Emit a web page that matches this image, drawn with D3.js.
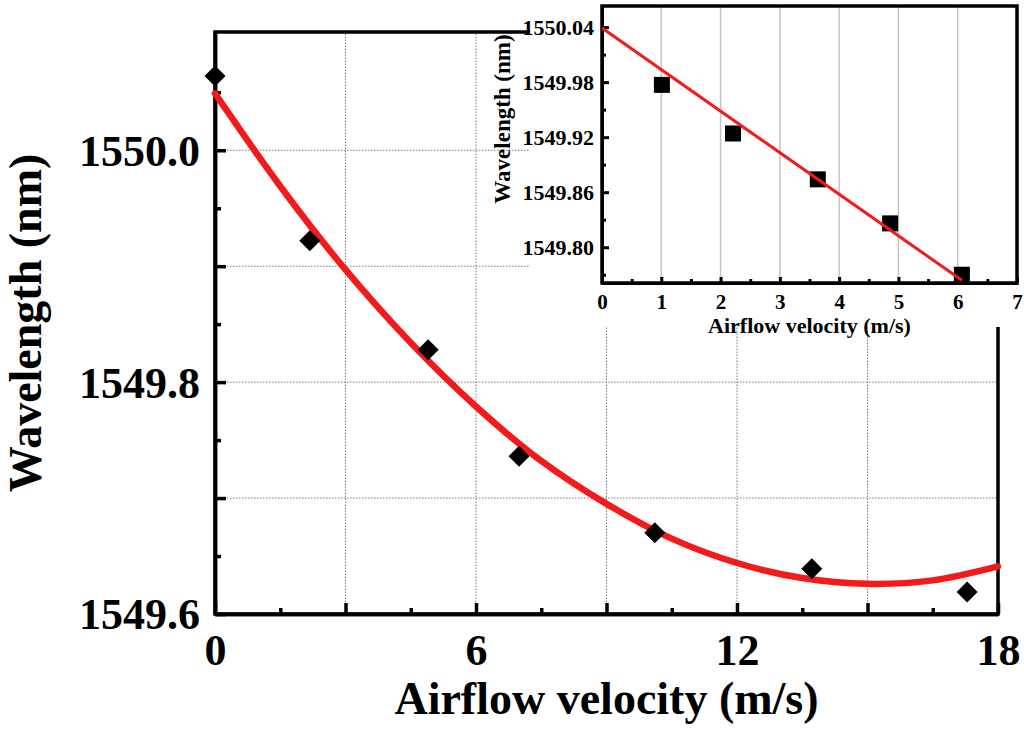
<!DOCTYPE html>
<html>
<head>
<meta charset="utf-8">
<script src="https://cdn.jsdelivr.net/npm/d3@7"></script>
<style>
  html, body { margin: 0; padding: 0; background: #fff; }
  svg { display: block; }
  text { font-family: "Liberation Serif", "Times New Roman", serif; font-weight: bold; fill: #000; }
</style>
</head>
<body>
<svg id="chart" width="1024" height="729"></svg>
<script>
// ---------- data ----------
// main chart: measured points
const mainX = [0, 2.18, 4.9, 6.99, 10.11, 13.72, 17.29];
const mainY = [1550.064, 1549.922, 1549.828, 1549.736, 1549.670, 1549.639, 1549.619];
// main chart: fitted curve, read at regular x positions
const fitX = [0, 1.5, 3, 4.5, 6, 7.5, 9, 10.5, 12, 13.5, 15, 16.5, 18];
const fitY = [1550.049, 1549.969, 1549.897, 1549.834, 1549.779, 1549.732, 1549.695, 1549.665, 1549.644, 1549.631, 1549.626, 1549.629, 1549.641];
// main ticks
const mainXTicks = [0, 6, 12, 18];
const mainXTickLabels = ["0", "6", "12", "18"];
const mainXMajor = [0, 3, 6, 9, 12, 15, 18];
const mainXMinor = [1.5, 4.5, 7.5, 10.5, 13.5, 16.5];
const mainYTicks = [1549.6, 1549.8, 1550.0];
const mainYTickLabels = ["1549.6", "1549.8", "1550.0"];
const mainYMajor = [1549.6, 1549.7, 1549.8, 1549.9, 1550.0];
const mainYMinor = [1549.65, 1549.75, 1549.85, 1549.95, 1550.05];
const mainXGrid = [3, 6, 9, 12, 15];
const mainYGrid = [1549.7, 1549.8, 1549.9, 1550.0];

// inset: measured points and linear fit
const insetX = [1.01, 2.21, 3.64, 4.86, 6.07];
const insetY = [1549.977, 1549.924, 1549.874, 1549.826, 1549.770];
const insetFitX = [0, 6.07];
const insetFitY = [1550.039, 1549.764];
// inset ticks
const insetXTicks = [0, 1, 2, 3, 4, 5, 6, 7];
const insetXTickLabels = ["0", "1", "2", "3", "4", "5", "6", "7"];
const insetXMinor = [0.5, 1.5, 2.5, 3.5, 4.5, 5.5, 6.5];
const insetYTicks = [1549.80, 1549.86, 1549.92, 1549.98, 1550.04];
const insetYTickLabels = ["1549.80", "1549.86", "1549.92", "1549.98", "1550.04"];
const insetYMinor = [1549.77, 1549.83, 1549.89, 1549.95, 1550.01];
const insetXGrid = [1, 2, 3, 4, 5, 6];

// ---------- drawing ----------
const svg = d3.select("#chart");
const RED = "#f21a1a";

// main scales
const x = d3.scaleLinear().domain([0, 18]).range([215, 998]);
const y = d3.scaleLinear().domain([1549.6, 1550.102]).range([614, 32]);

const main = svg.append("g");

// grid
main.append("g").selectAll("line").data(mainXGrid).join("line")
  .attr("x1", d => x(d)).attr("x2", d => x(d))
  .attr("y1", y.range()[0]).attr("y2", y.range()[1])
  .attr("stroke", "#7a7a7a").attr("stroke-width", 1).attr("stroke-dasharray", "1.5,1.5");
main.append("g").selectAll("line").data(mainYGrid).join("line")
  .attr("x1", x.range()[0]).attr("x2", x.range()[1])
  .attr("y1", d => y(d)).attr("y2", d => y(d))
  .attr("stroke", "#7a7a7a").attr("stroke-width", 1).attr("stroke-dasharray", "1.5,1.5");

// frame (top & right)
main.append("rect")
  .attr("x", x.range()[0]).attr("y", y.range()[1])
  .attr("width", x.range()[1] - x.range()[0]).attr("height", y.range()[0] - y.range()[1])
  .attr("fill", "none").attr("stroke", "#000").attr("stroke-width", 3.5);

// axes
function styleAxis(g, w) {
  g.select(".domain").attr("stroke", "#000").attr("stroke-width", w);
  g.selectAll(".tick line").attr("stroke", "#000").attr("stroke-width", w);
}
const xAxisMajor = main.append("g").attr("transform", `translate(0,${y.range()[0]})`)
  .call(d3.axisBottom(x).tickValues(mainXMajor).tickSizeInner(-11).tickSizeOuter(0).tickPadding(20)
    .tickFormat(d => { const i = mainXTicks.indexOf(d); return i >= 0 ? mainXTickLabels[i] : ""; }));
styleAxis(xAxisMajor, 3.5);
xAxisMajor.selectAll(".tick text").attr("font-size", 44).attr("font-family", "Liberation Serif").attr("font-weight", "bold");
const xAxisMinor = main.append("g").attr("transform", `translate(0,${y.range()[0]})`)
  .call(d3.axisBottom(x).tickValues(mainXMinor).tickSizeInner(-6).tickSizeOuter(0).tickFormat(""));
styleAxis(xAxisMinor, 3.5);

const yAxisMajor = main.append("g").attr("transform", `translate(${x.range()[0]},0)`)
  .call(d3.axisLeft(y).tickValues(mainYMajor).tickSizeInner(-11).tickSizeOuter(0).tickPadding(15)
    .tickFormat(d => { const i = mainYTicks.findIndex(t => Math.abs(t - d) < 1e-6); return i >= 0 ? mainYTickLabels[i] : ""; }));
styleAxis(yAxisMajor, 3.5);
yAxisMajor.selectAll(".tick text").attr("font-size", 44).attr("font-family", "Liberation Serif").attr("font-weight", "bold").attr("dy", "0.34em");
const yAxisMinor = main.append("g").attr("transform", `translate(${x.range()[0]},0)`)
  .call(d3.axisLeft(y).tickValues(mainYMinor).tickSizeInner(-6).tickSizeOuter(0).tickFormat(""));
styleAxis(yAxisMinor, 3.5);

// axis titles
main.append("text").attr("x", (x.range()[0] + x.range()[1]) / 2).attr("y", 714)
  .attr("text-anchor", "middle").attr("font-size", 46).text("Airflow velocity (m/s)");
main.append("text").attr("transform", "translate(41,323) rotate(-90)")
  .attr("text-anchor", "middle").attr("font-size", 46).text("Wavelength (nm)");

// fit curve
const fitData = fitX.map((v, i) => [v, fitY[i]]);
main.append("path").datum(fitData)
  .attr("d", d3.line().x(d => x(d[0])).y(d => y(d[1])).curve(d3.curveCatmullRom))
  .attr("fill", "none").attr("stroke", RED).attr("stroke-width", 6.5).attr("stroke-linecap", "round");

// diamonds
const ptsMain = mainX.map((v, i) => [v, mainY[i]]);
main.append("g").selectAll("path").data(ptsMain).join("path")
  .attr("d", d3.symbol(d3.symbolSquare, 220))
  .attr("transform", d => `translate(${x(d[0])},${y(d[1])}) rotate(45)`)
  .attr("fill", "#000");

// ---------- inset ----------
const xi = d3.scaleLinear().domain([0, 7]).range([602, 1017]);
const yi = d3.scaleLinear().domain([1549.761, 1550.063]).range([283, 6]);
const inset = svg.append("g");

// white background covering main chart behind the inset
inset.append("rect").attr("x", 530).attr("y", 0).attr("width", 494).attr("height", 327).attr("fill", "#fff");

// grid
inset.append("g").selectAll("line").data(insetXGrid).join("line")
  .attr("x1", d => xi(d)).attr("x2", d => xi(d))
  .attr("y1", yi.range()[0]).attr("y2", yi.range()[1])
  .attr("stroke", "#c4c4c4").attr("stroke-width", 1.5);

// frame
inset.append("rect")
  .attr("x", xi.range()[0]).attr("y", yi.range()[1])
  .attr("width", xi.range()[1] - xi.range()[0]).attr("height", yi.range()[0] - yi.range()[1])
  .attr("fill", "none").attr("stroke", "#000").attr("stroke-width", 3.5);

const ixMajor = inset.append("g").attr("transform", `translate(0,${yi.range()[0]})`)
  .call(d3.axisBottom(xi).tickValues(insetXTicks).tickSizeInner(-6).tickSizeOuter(0).tickPadding(11)
    .tickFormat((d, i) => insetXTickLabels[i]));
styleAxis(ixMajor, 3);
ixMajor.selectAll(".tick text").attr("font-size", 21).attr("font-family", "Liberation Serif").attr("font-weight", "bold");
const ixMinor = inset.append("g").attr("transform", `translate(0,${yi.range()[0]})`)
  .call(d3.axisBottom(xi).tickValues(insetXMinor).tickSizeInner(-4).tickSizeOuter(0).tickFormat(""));
styleAxis(ixMinor, 3);

const iyMajor = inset.append("g").attr("transform", `translate(${xi.range()[0]},0)`)
  .call(d3.axisLeft(yi).tickValues(insetYTicks).tickSizeInner(-7).tickSizeOuter(0).tickPadding(8)
    .tickFormat((d, i) => insetYTickLabels[i]));
styleAxis(iyMajor, 3);
iyMajor.selectAll(".tick text").attr("font-size", 22).attr("font-family", "Liberation Serif").attr("font-weight", "bold").attr("dy", "0.34em");
const iyMinor = inset.append("g").attr("transform", `translate(${xi.range()[0]},0)`)
  .call(d3.axisLeft(yi).tickValues(insetYMinor).tickSizeInner(-4).tickSizeOuter(0).tickFormat(""));
styleAxis(iyMinor, 3);

inset.append("text").attr("x", (xi.range()[0] + xi.range()[1]) / 2).attr("y", 333)
  .attr("text-anchor", "middle").attr("font-size", 22).text("Airflow velocity (m/s)");
inset.append("text").attr("transform", "translate(510,119) rotate(-90)")
  .attr("text-anchor", "middle").attr("font-size", 23).text("Wavelength (nm)");

// squares
const ptsInset = insetX.map((v, i) => [v, insetY[i]]);
inset.append("g").selectAll("path").data(ptsInset).join("path")
  .attr("d", d3.symbol(d3.symbolSquare, 256))
  .attr("transform", d => `translate(${xi(d[0])},${yi(d[1])})`)
  .attr("fill", "#000");

// linear fit
const insetFit = insetFitX.map((v, i) => [v, insetFitY[i]]);
inset.append("path").datum(insetFit)
  .attr("d", d3.line().x(d => xi(d[0])).y(d => yi(d[1])))
  .attr("fill", "none").attr("stroke", RED).attr("stroke-width", 3);
</script>
</body>
</html>
